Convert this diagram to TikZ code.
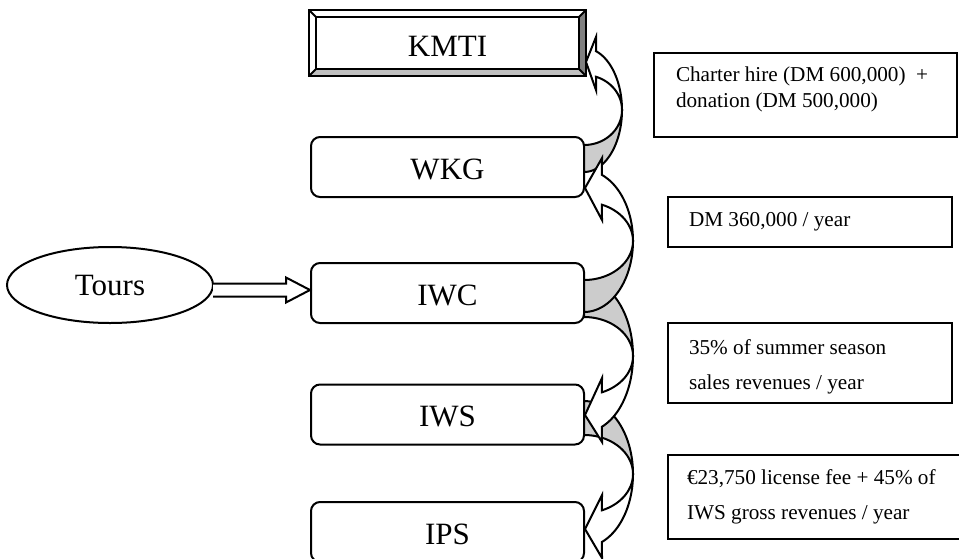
\documentclass[tikz,border=0pt]{standalone}
\usepackage{fontspec}
\setmainfont{Liberation Serif}
\usetikzlibrary{calc,shapes.geometric}
\definecolor{bandgray}{RGB}{204,204,204}
\definecolor{bevellight}{RGB}{192,192,192}
\definecolor{beveldark}{RGB}{128,128,128}
\begin{document}
\begin{tikzpicture}[x=0.5pt,y=-0.5pt,line width=1pt,line join=miter,
  bigfont/.style={font=\fontsize{15.5pt}{18pt}\selectfont},
  smallfont/.style={font=\fontsize{10.6pt}{13pt}\selectfont},
  orgbox/.style={draw,rounded corners=4.5pt,minimum width=136.5pt,minimum height=30pt,
    inner sep=0pt,bigfont,text height=12.3pt,text depth=0pt},
  notebox/.style={draw,inner sep=0pt},
  notetext/.style={smallfont,anchor=base west,inner sep=0pt},
  band/.style={draw,fill=bandgray},
  face/.style={draw,fill=white}]
\fill[white] (0,0) rectangle (959,558);
\useasboundingbox (0,0) rectangle (959,558);
\clip (0,0) rectangle (959,558);

% KMTI bevelled box
\node[minimum width=137.5pt,minimum height=32pt,inner sep=0pt,bigfont,
      text height=13.3pt,text depth=0pt] (kmti) at (447.5,43) {};
\fill[bevellight] (kmti.south west) -- (kmti.south east) -- ($(kmti.south east)+(-7,-7)$) -- ($(kmti.south west)+(7,-7)$) -- cycle;
\fill[beveldark] (kmti.north east) -- (kmti.south east) -- ($(kmti.south east)+(-7,-7)$) -- ($(kmti.north east)+(-7,7)$) -- cycle;
\draw (kmti.north west) rectangle (kmti.south east);
\draw ($(kmti.north west)+(7,7)$) rectangle ($(kmti.south east)+(-7,-7)$);
\draw (kmti.north west) -- ($(kmti.north west)+(7,7)$);
\draw (kmti.north east) -- ($(kmti.north east)+(-7,7)$);
\draw (kmti.south west) -- ($(kmti.south west)+(7,-7)$);
\draw (kmti.south east) -- ($(kmti.south east)+(-7,-7)$);
\node[bigfont,text height=13.3pt,text depth=0pt,inner sep=0pt] at (kmti.center) {KMTI};

% organisation boxes
\node[orgbox] (wkg) at (447.5,167) {WKG};
\node[orgbox] (iwc) at (447.5,293) {IWC};
\node[orgbox] (iws) at (447.5,414.5) {IWS};
\node[orgbox] (ips) at (447.5,532) {IPS};

% Tours
\node[ellipse,draw,minimum width=103pt,minimum height=38pt,inner sep=0pt,bigfont] (tours) at (110,285) {Tours};
\coordinate (ttip) at ($(iwc.west)+(0,-3)$);
\coordinate (tstart) at (tours.east |- ttip);
\draw[fill=white] ($(tstart)+(-1,-6.5)$) -- ($(ttip)+(-24,-6.5)$) -- ($(ttip)+(-24,-12.5)$) -- (ttip)
  -- ($(ttip)+(-24,12.5)$) -- ($(ttip)+(-24,6.5)$) -- ($(tstart)+(-1,6.5)$);

% curved arrow IWS -> IPS
\begin{scope}[shift={(584,474)}]
  \path[band] plot[domain=-90:0,samples=50] ({49*cos(\x)},{73*sin(\x)})
    -- plot[domain=0:-90,samples=50] ({49*cos(\x)},{39*sin(\x)}) -- cycle;
  \path[face] plot[domain=68.5:0,samples=50] ({49*cos(\x)},{73*sin(\x)})
    -- plot[domain=0:68.5,samples=50] ({49*cos(\x)},{39*sin(\x)})
    -- (18,21) -- (1,55) -- (18,84) -- cycle;
\end{scope}
% curved arrow IWC -> IWS
\begin{scope}[shift={(584,356)}]
  \path[band] plot[domain=-90:0,samples=50] ({49*cos(\x)},{76*sin(\x)})
    -- plot[domain=0:-90,samples=50] ({49*cos(\x)},{39*sin(\x)}) -- cycle;
  \path[face] plot[domain=68.5:0,samples=50] ({49*cos(\x)},{76*sin(\x)})
    -- plot[domain=0:68.5,samples=50] ({49*cos(\x)},{39*sin(\x)})
    -- (18,22) -- (1,59) -- (18,86) -- cycle;
\end{scope}
% curved arrow WKG -> KMTI
\begin{scope}[shift={(584,110)}]
  \path[band] plot[domain=90:0,samples=50] ({38*cos(\x)},{62*sin(\x)})
    -- plot[domain=0:90,samples=50] ({38*cos(\x)},{35*sin(\x)}) -- cycle;
  \path[face] plot[domain=-71.6:0,samples=50] ({38*cos(\x)},{62*sin(\x)})
    -- plot[domain=0:-71.6,samples=50] ({38*cos(\x)},{35*sin(\x)})
    -- (12,-20) -- (2,-48) -- (12,-73) -- cycle;
\end{scope}
% curved arrow IWC -> WKG
\begin{scope}[shift={(584,241)}]
  \path[band] plot[domain=90:0,samples=50] ({49*cos(\x)},{71*sin(\x)})
    -- plot[domain=0:90,samples=50] ({49*cos(\x)},{39*sin(\x)}) -- cycle;
  \path[face] plot[domain=-68.5:0,samples=50] ({49*cos(\x)},{71*sin(\x)})
    -- plot[domain=0:-68.5,samples=50] ({49*cos(\x)},{39*sin(\x)})
    -- (18,-21) -- (1,-53) -- (18,-83) -- cycle;
\end{scope}

% note boxes
\node[notebox,minimum width=151.5pt,minimum height=42pt] (note1) at (805.5,95) {};
\node[notetext] at ($(note1.north west)+(22,29)$) {Charter hire (DM 600,000)~~+};
\node[notetext] at ($(note1.north west)+(22,55)$) {donation (DM 500,000)};

\node[notebox,minimum width=142pt,minimum height=25pt] (note2) at (810,222) {};
\node[notetext] at ($(note2.north west)+(21,30)$) {DM 360,000 / year};

\node[notebox,minimum width=142pt,minimum height=40pt] (note3) at (810,363) {};
\node[notetext] at ($(note3.north west)+(21,32)$) {35\% of summer season};
\node[notetext] at ($(note3.north west)+(21,67)$) {sales revenues / year};

\node[notebox,minimum width=147pt,minimum height=42pt] (note4) at (815,497) {};
\node[notetext] at ($(note4.north west)+(19,30)$) {€23,750 license fee + 45\% of};
\node[notetext] at ($(note4.north west)+(19,65)$) {IWS gross revenues / year};
\end{tikzpicture}
\end{document}
